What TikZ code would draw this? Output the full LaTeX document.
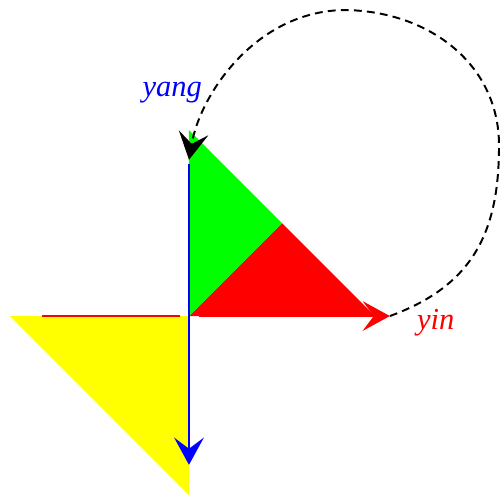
\documentclass[tikz,border=0pt]{standalone}
\usepackage{fontspec}
\setmainfont{Liberation Serif}
\usetikzlibrary{arrows.meta}
\definecolor{yinred}{RGB}{255,0,0}
\definecolor{yangblue}{RGB}{0,0,255}
\definecolor{leafgreen}{RGB}{0,255,0}
\definecolor{sunyellow}{RGB}{255,255,0}

\begin{document}
\begin{tikzpicture}[x=1cm,y=1cm,>={Stealth[length=4.4mm,width=4.8mm,inset=1.8mm]},
  lbl/.style={font=\fontsize{14}{16}\selectfont\itshape}]
\useasboundingbox (-3.048,-2.887) rectangle (5.032,5.097);
\coordinate (o) at (0,0);
\coordinate (top) at (0,3);
\coordinate (bot) at (0,-2.89);
\coordinate (apex) at (1.5,1.5);
\coordinate (right) at (3,0);
\coordinate (left) at (-2.89,0);
\fill[sunyellow] (o)--(left)--(bot)--cycle;
\fill[yinred] (o)--(right)--(apex)--cycle;
\fill[leafgreen] (o)--(top)--(apex)--cycle;
% axes
\coordinate (yin) at (3.24,0);
\coordinate (yang) at (0,2.52);
\coordinate (yinw) at (-2.37,0);
\coordinate (yinc) at (-0.15,0);
\coordinate (yine) at (0.16,0);
\coordinate (yangs) at (0,2.45);
\coordinate (down) at (0,-2.4);
\draw[yinred,line width=0.8pt] (yinw)--(yinc);
\draw[yinred,line width=0.8pt,->] (yine)--(yin);
\draw[yangblue,line width=0.8pt,->] (yangs)--(down);
% the loop from yin back to yang
\coordinate (east) at (5.0,2.75);
\coordinate (north) at (2.484,4.935);
\draw[dash pattern=on 3.6pt off 2.4pt,line width=0.9pt,->] (yin)
  .. controls (4.61,0.5) and (5.0,1.39) .. (east)
  .. controls (5.0,4.1) and (3.82,4.935) .. (north)
  .. controls (1.065,4.903) and (0.177,3.565) .. (yang);
\node[lbl,yinred] (yinlbl) at (3.98,-0.11) {yin};
\node[lbl,yangblue] (yanglbl) at (-0.27,3.6) {yang};
\end{tikzpicture}
\end{document}
